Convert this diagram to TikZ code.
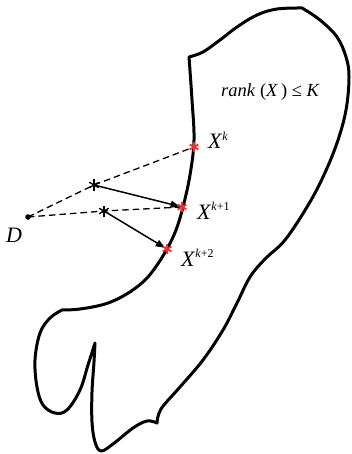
\documentclass[tikz,border=0pt]{standalone}
\usepackage{fontspec}
\setmainfont{Liberation Serif}
\usetikzlibrary{arrows.meta}
\definecolor{starred}{RGB}{238,45,45}
\newcommand\supx[1]{\raisebox{8.5pt}{\fontsize{12}{12}\selectfont #1}}
\begin{document}
\begin{tikzpicture}[x=1pt,y=-1pt,
  outline/.style={line width=3pt, line join=round, line cap=round},
  dashline/.style={line width=1.3pt, dash pattern=on 6.5pt off 4pt},
  arrowline/.style={line width=1.5pt, -{Triangle[length=9pt,width=7pt]}, shorten >=2.5pt},
  lbl/.style={font=\fontsize{22}{26}\selectfont, inner sep=0pt, anchor=base west},
  rlbl/.style={font=\fontsize{18.5}{22}\selectfont, inner sep=0pt, anchor=base west},
  redarm/.style={starred, line width=1.8pt},
  blkarm/.style={black, line width=1.3pt}]
\useasboundingbox (0,0) rectangle (351,454);

% outline of the set
\draw[outline]
  plot[smooth,tension=0.6] coordinates {(189,57) (192,100) (194,140) (190,175) (183,207) (176,230) (167,249) (155,268) (143,282) (125,295) (105,304) (80,309) (62,310)}
  -- plot[smooth,tension=0.6] coordinates {(62,310) (50,318) (40,333) (35,360) (37,387) (43,405) (55,413) (67,410) (80,390) (88,365) (95,343)}
  -- plot[smooth,tension=0.6] coordinates {(95,343) (94,362) (92,392) (92,422) (95,442) (101,451) (113,444) (133,428) (147,421) (157,423)}
  -- plot[smooth,tension=0.6] coordinates {(157,423) (161,409) (180,387) (203,360) (223,330) (237,303) (250,277) (265,259) (285,240) (307,207) (323,177) (337,143) (346,110) (349,77) (346,57) (337,37) (320,20) (302,8)}
  -- plot[smooth,tension=0.6] coordinates {(302,8) (277,9) (257,15) (237,27) (220,40) (203,52) (189,57)}
  -- cycle;

% points
\coordinate (D) at (28,217);
\coordinate (xk) at (194,147);
\coordinate (xk1) at (182,207);
\coordinate (xk2) at (167,249);
\coordinate (s1) at (94,185);
\coordinate (s2) at (104,211);

% dashed lines
\draw[dashline] (D) -- (s1) -- (xk);
\draw[dashline] (D) -- (s2) -- (xk1);

% arrows
\draw[arrowline] (s1) -- (xk1);
\draw[arrowline] (s2) -- (xk2);

% stars
\foreach \c in {xk,xk1,xk2}
  \foreach \a in {90,30,-30}
    \draw[redarm] (\c) +(\a:5) -- +(\a+180:5);
\foreach \c in {s1,s2}
  \foreach \a in {90,30,-30}
    \draw[blkarm] (\c) +(\a:5.5) -- +(\a+180:5.5);

\fill (D) circle (2.8);

% labels
\node[lbl] (lD) at (6,242) {\textit{D}};
\node[lbl] (lk) at (208,149) {\textit{X}\supx{\textit{k}}};
\node[lbl] (lk1) at (197,219) {\textit{X}\supx{\textit{k}+1}};
\node[lbl] (lk2) at (181,266) {\textit{X}\supx{\textit{k}+2}};
\node[rlbl] (lr) at (221,97) {\textit{rank} (\textit{X}\,) ≤ \textit{K}};
\end{tikzpicture}
\end{document}
